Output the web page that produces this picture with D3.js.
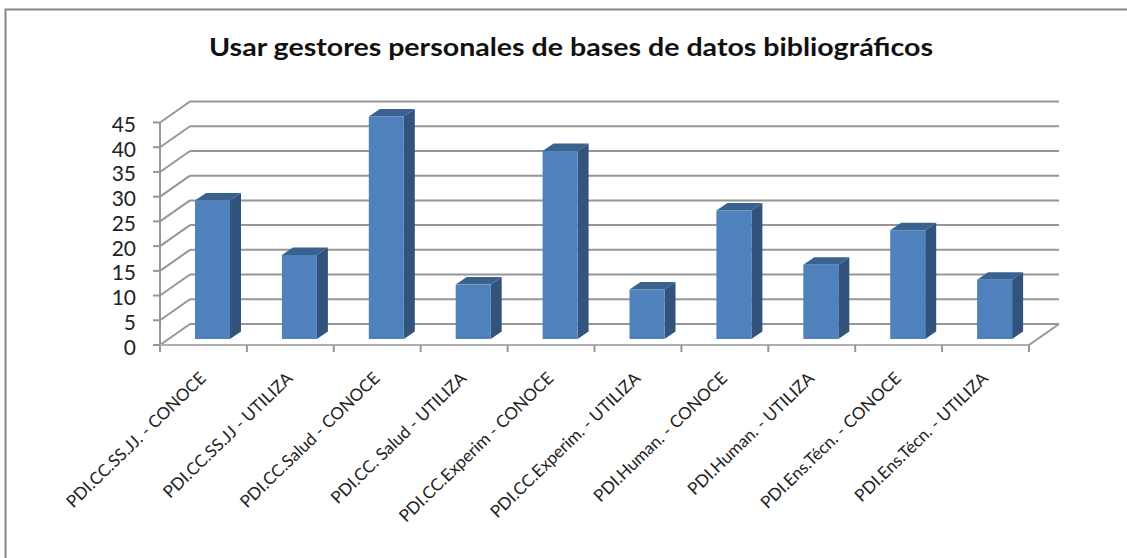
<!DOCTYPE html>
<html><head><meta charset="utf-8">
<script src="https://cdn.jsdelivr.net/npm/d3@7/dist/d3.min.js"></script>
<style>html,body{margin:0;padding:0;background:#fff}svg{display:block}</style></head>
<body><svg id="c" width="1127" height="558"></svg>
<script>
const categories = ["PDI.CC.SS.JJ. - CONOCE","PDI.CC.SS.JJ - UTILIZA","PDI.CC.Salud - CONOCE","PDI.CC. Salud - UTILIZA","PDI.CC.Experim - CONOCE","PDI.CC.Experim. - UTILIZA","PDI.Human. - CONOCE","PDI.Human. - UTILIZA","PDI.Ens.Técn. - CONOCE","PDI.Ens.Técn. - UTILIZA"];
const values = [28,17,45,11,38,10,26,15,22,12];
const yTicks = d3.range(0,50,5);
const titleText = "Usar gestores personales de bases de datos bibliográficos";
const font = "Lato,'Open Sans',sans-serif";
const svg = d3.select("#c");
svg.append("path").attr("d","M5.5,558V9.5H1127").attr("fill","none").attr("stroke","#858585").attr("stroke-width",2);
svg.append("text").attr("x",571).attr("y",56).attr("text-anchor","middle").attr("font-family",font).attr("font-weight",700).attr("font-size",25).attr("textLength",724).attr("lengthAdjust","spacingAndGlyphs").attr("fill","#111").text(titleText);
const x = d3.scaleBand().domain(categories).range([160,1029]);
const y = d3.scaleLinear().domain([0,45]).range([345,122.5]);
const depth = {dx:30,dy:-21}, barDepth={dx:11,dy:-7.5}, baseInset={dx:0,dy:-6};
const grid="#969696";
const g=svg.append("g");
const line=(a,b,c,d,w=2,col=grid)=>g.append("line").attr("x1",a).attr("y1",b).attr("x2",c).attr("y2",d).attr("stroke",col).attr("stroke-width",w);
yTicks.forEach(t=>{
  const py=y(t);
  line(160,py,160+depth.dx,py+depth.dy);
  line(160+depth.dx,py+depth.dy,1029+depth.dx,py+depth.dy);
  line(153,py,160,py);
  g.append("text").attr("x",136).attr("y",py+9.5).attr("text-anchor","end").attr("font-family",font).attr("font-size",21).attr("fill","#222").text(t);
});
line(160,y(0),160,y(45));
line(160,y(0),1029,y(0),2,"#b0b0b0");
line(1029,y(0),1029+depth.dx,y(0)+depth.dy);
d3.range(categories.length+1).forEach(i=>{const px=160+i*x.bandwidth();line(px,345,px,352);});
const bw=35;
categories.forEach((c,i)=>{
  const bx=x(c)+35, v=values[i], top=y(v)+baseInset.dy, base=y(0)+baseInset.dy;
  const pts=a=>a.map(p=>p.join(",")).join(" ");
  g.append("polygon").attr("points",pts([[bx+bw,top],[bx+bw+barDepth.dx,top+barDepth.dy],[bx+bw+barDepth.dx,base+barDepth.dy],[bx+bw,base]])).attr("fill","#31537c");
  g.append("polygon").attr("points",pts([[bx,top],[bx+barDepth.dx,top+barDepth.dy],[bx+bw+barDepth.dx,top+barDepth.dy],[bx+bw,top]])).attr("fill","#39628f");
  g.append("rect").attr("x",bx).attr("y",top).attr("width",bw).attr("height",base-top).attr("fill","#4f81bd");
  g.append("text").attr("transform",`translate(${x(c)+x.bandwidth()/2+3.5},379.5) rotate(-44)`).attr("text-anchor","end").attr("font-family",font).attr("font-size",17).attr("fill","#222").text(c);
});
</script></body></html>
